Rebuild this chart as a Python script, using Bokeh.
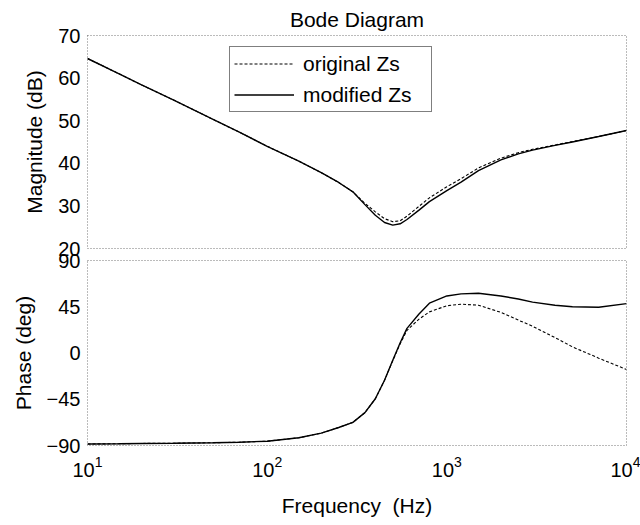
from bokeh.plotting import figure
from bokeh.layouts import column
from bokeh.models import FixedTicker, LogTicker, Legend, LegendItem, Range1d
from bokeh.embed import file_html
from bokeh.resources import INLINE

# Frequency grid (Hz)
freq = [10, 15, 20, 30, 50, 70, 100, 150, 200, 250, 300, 350, 400, 450, 500,
        550, 600, 700, 800, 1000, 1200, 1500, 2000, 2500, 3000, 4000, 5000,
        7000, 10000]

# Magnitude (dB)
mag_original = [64.6, 61.0, 58.4, 54.9, 50.3, 47.3, 44.0, 40.5, 37.8, 35.5,
                33.3, 30.6, 28.6, 27.0, 26.3, 26.5, 27.6, 29.9, 31.9, 34.5,
                36.4, 38.9, 41.2, 42.5, 43.3, 44.3, 45.1, 46.3, 47.7]
mag_modified = [64.6, 61.0, 58.4, 54.9, 50.3, 47.3, 44.0, 40.5, 37.8, 35.5,
                33.3, 30.3, 27.8, 26.1, 25.5, 25.8, 26.8, 29.0, 31.0, 33.6,
                35.6, 38.3, 40.8, 42.2, 43.1, 44.2, 45.0, 46.3, 47.7]

# Phase (deg)
phase_original = [-88.5, -88.3, -88.0, -87.8, -87.3, -86.8, -85.8, -82.5,
                  -78.0, -72.5, -67.5, -58.0, -44.5, -26.5, -7.5, 9.0, 22.0,
                  33.0, 40.0, 46.0, 47.5, 46.5, 39.5, 32.0, 26.0, 15.0, 6.0,
                  -5.0, -16.0]
phase_modified = [-88.5, -88.3, -88.0, -87.8, -87.3, -86.8, -85.8, -82.5,
                  -78.0, -72.5, -67.5, -58.0, -44.5, -26.5, -7.0, 10.0, 24.0,
                  38.0, 48.5, 55.5, 57.5, 58.2, 55.5, 52.5, 49.5, 46.5, 45.0,
                  44.5, 48.0]

mag_ticks = [20, 30, 40, 50, 60, 70]
phase_ticks = [-90, -45, 0, 45, 90]

FONT = "Liberation Sans"
W = 640


def style(p):
    p.outline_line_color = "#777777"
    p.outline_line_dash = "1 2"
    p.outline_line_width = 1
    p.xgrid.visible = False
    p.ygrid.visible = False
    for ax in p.axis:
        ax.axis_line_color = None
        ax.major_tick_line_color = None
        ax.minor_tick_line_color = None
        ax.major_tick_in = 0
        ax.major_tick_out = 0
        ax.minor_tick_in = 0
        ax.minor_tick_out = 0
        ax.major_label_text_font = FONT
        ax.major_label_text_font_size = "20px"
        ax.major_label_text_color = "black"
        ax.axis_label_text_font = FONT
        ax.axis_label_text_font_size = "21px"
        ax.axis_label_text_font_style = "normal"
        ax.axis_label_text_color = "black"
        ax.major_label_standoff = 7
        ax.axis_label_standoff = 9


# Magnitude panel
top = figure(width=W, height=264, x_axis_type="log",
             x_range=Range1d(10, 10000), y_range=Range1d(20, 70),
             output_backend="svg", toolbar_location=None,
             min_border_left=87, min_border_right=14,
             min_border_top=33, min_border_bottom=16,
             title="Bode Diagram")
top.title.align = "center"
top.title.text_font = FONT
top.title.text_font_size = "21px"
top.title.text_font_style = "normal"
top.title.text_color = "black"

r_orig = top.line(freq, mag_original, line_color="black", line_width=1.1,
                  line_dash="3 2")
r_mod = top.line(freq, mag_modified, line_color="black", line_width=1.4)
top.yaxis.ticker = FixedTicker(ticks=mag_ticks)
top.yaxis.axis_label = "Magnitude (dB)"
style(top)
top.xaxis.visible = False

legend = Legend(items=[LegendItem(label="original Zs", renderers=[r_orig]),
                       LegendItem(label="modified Zs", renderers=[r_mod])],
                location=(142, 136), margin=0, padding=4, spacing=6,
                glyph_width=60, glyph_height=25, label_height=25,
                label_width=124, label_standoff=9,
                label_text_font=FONT, label_text_font_size="21px",
                label_text_color="black",
                border_line_color="black", border_line_width=1,
                background_fill_color="white", background_fill_alpha=1)
top.add_layout(legend, "center")

# Phase panel; its transparent top border overlaps the magnitude panel so
# the adjoining "20" and "90" labels both stay whole
bot = figure(width=W, height=283, x_axis_type="log",
             x_range=top.x_range, y_range=Range1d(-90, 90),
             output_backend="svg", toolbar_location=None,
             min_border_left=87, min_border_right=14,
             min_border_top=18, min_border_bottom=80,
             margin=(-22, 0, 0, 0))
bot.border_fill_color = None
bot.line(freq, phase_original, line_color="black", line_width=1.1,
         line_dash="3 2")
bot.line(freq, phase_modified, line_color="black", line_width=1.4)
bot.yaxis.ticker = FixedTicker(ticks=phase_ticks)
bot.yaxis.axis_label = "Phase (deg)"
bot.xaxis.ticker = LogTicker(desired_num_ticks=4, num_minor_ticks=0)
bot.xaxis.axis_label = "Frequency\u00a0 (Hz)"
style(bot)
bot.xaxis.major_label_standoff = 10
bot.xaxis.axis_label_standoff = 14

layout = column(top, bot, spacing=0)

with open("out.html", "w") as f:
    f.write(file_html(layout, INLINE))
